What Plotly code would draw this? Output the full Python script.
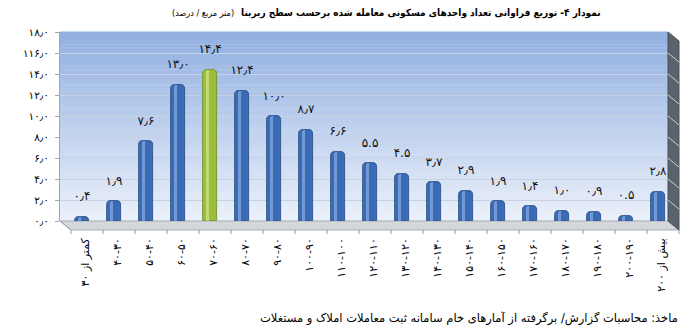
import plotly.graph_objects as go

# ---------------- data ----------------
categories = ["کمتر از ۳۰", "۳۰-۴۰", "۴۰-۵۰", "۵۰-۶۰", "۶۰-۷۰", "۷۰-۸۰", "۸۰-۹۰",
              "۹۰-۱۰۰", "۱۰۰-۱۱۰", "۱۱۰-۱۲۰", "۱۲۰-۱۳۰", "۱۳۰-۱۴۰", "۱۴۰-۱۵۰",
              "۱۵۰-۱۶۰", "۱۶۰-۱۷۰", "۱۷۰-۱۸۰", "۱۸۰-۱۹۰", "۱۹۰-۲۰۰", "بیش از ۲۰۰"]
values = [0.4, 1.9, 7.6, 13.0, 14.4, 12.4, 10.0, 8.7, 6.6, 5.5, 4.5, 3.7, 2.9,
          1.9, 1.4, 1.0, 0.9, 0.5, 2.8]
value_labels = ["۰٫۴", "۱٫۹", "۷٫۶", "۱۳٫۰", "۱۴٫۴", "۱۲٫۴", "۱۰٫۰", "۸٫۷", "۶٫۶",
                "۵.۵", "۴.۵", "۳٫۷", "۲٫۹", "۱٫۹", "۱٫۴", "۱٫۰", "۰٫۹", "۰.۵", "۲٫۸"]
y_tick_values = [0, 2, 4, 6, 8, 10, 12, 14, 16, 18]
y_tick_labels = ["۰٫۰", "۲٫۰", "۴٫۰", "۶٫۰", "۸٫۰", "۱۰٫۰", "۱۲٫۰", "۱۴٫۰", "۱۱۶٫۰", "۱۸٫۰"]
highlight_category = "۶۰-۷۰"

title_text = "نمودار ۴- توزیع فراوانی تعداد واحدهای مسکونی معامله شده برحسب سطح زیربنا"
unit_text = "(متر مربع / درصد)"
source_text = "ماخذ: محاسبات گزارش/ برگرفته از آمارهای خام سامانه ثبت معاملات املاک و مستغلات"

# ---------------- geometry helpers ----------------
W, H = 695, 332
L, R, T, B = 60, 668, 32, 221          # back wall (plot area) in pixels
FONT = "DejaVu Sans"
FONT_C = "DejaVu Sans Condensed, DejaVu Sans"


def px(x):
    return (x - L) / (R - L)


def py(y):
    return (B - y) / (B - T)


n = len(categories)
pos = list(range(n))
ticktext = [("\u061c" + c) if "-" in c else c for c in categories]

base_colors = ["#9bbf3a" if c == highlight_category else "#3a6cb6" for c in categories]
edge_colors = ["#6c8c22" if c == highlight_category else "#22497f" for c in categories]
shine_colors = ["rgba(225,242,170,0.55)" if c == highlight_category else "rgba(160,192,240,0.55)"
                for c in categories]

fig = go.Figure()

fig.add_trace(go.Bar(
    x=pos, y=values, width=0.41, offset=-0.205,
    marker=dict(color=base_colors, line=dict(color=edge_colors, width=0.8), cornerradius=4),
    hoverinfo="skip", showlegend=False,
))
fig.add_trace(go.Bar(
    x=pos, y=values, width=0.1, offset=-0.13,
    marker=dict(color=shine_colors, line=dict(width=0), cornerradius=2),
    hoverinfo="skip", showlegend=False,
))
fig.add_trace(go.Scatter(
    x=pos, y=values, mode="markers+text", text=value_labels,
    textposition="top center",
    textfont=dict(family=FONT, size=12, color="#111111"),
    marker=dict(size=20, opacity=0),
    hoverinfo="skip", showlegend=False, cliponaxis=False,
))

shapes = []
# back wall gradient
top_c = (146, 176, 225)
bot_c = (234, 240, 250)
steps = 60
for i in range(steps):
    t = i / (steps - 1)
    c = tuple(int(round(bot_c[k] + (top_c[k] - bot_c[k]) * t)) for k in range(3))
    shapes.append(dict(type="rect", xref="paper", yref="paper",
                       x0=0, x1=1, y0=i / steps, y1=(i + 1) / steps + 0.002,
                       fillcolor="rgb(%d,%d,%d)" % c, line=dict(width=0), layer="below"))

# floor
dx, dy = 11, 9
floor_path = "M {},{} L {},{} L {},{} L {},{} Z".format(
    px(L), py(B), px(R), py(B), px(R + dx), py(B + dy), px(L + dx), py(B + dy))
shapes.append(dict(type="path", xref="paper", yref="paper", path=floor_path,
                   fillcolor="#d3d6da", line=dict(color="#a8abb0", width=1), layer="below"))
# right side wall
side_path = "M {},{} L {},{} L {},{} L {},{} Z".format(
    px(R), py(T), px(R + dx), py(T + dy), px(R + dx), py(B + dy), px(R), py(B))
shapes.append(dict(type="path", xref="paper", yref="paper", path=side_path,
                   fillcolor="#5a626d", line=dict(color="#4a5058", width=1), layer="above"))
for v in y_tick_values[1:-1]:
    yy = B - v / 18 * (B - T)
    shapes.append(dict(type="line", xref="paper", yref="paper",
                       x0=px(R), y0=py(yy), x1=px(R + dx), y1=py(yy + dy),
                       line=dict(color="#c9ccd1", width=1), layer="above"))
# front floor edge tick marks
cw = (R - L) / n
for k in range(n + 1):
    xx = L + dx + k * cw
    shapes.append(dict(type="line", xref="paper", yref="paper",
                       x0=px(xx), y0=py(B + dy), x1=px(xx), y1=py(B + dy + 4),
                       line=dict(color="#9a9da2", width=1)))
# left slanted floor edge
shapes.append(dict(type="line", xref="paper", yref="paper",
                   x0=px(L), y0=py(B), x1=px(L + dx), y1=py(B + dy),
                   line=dict(color="#9a9da2", width=1)))

annotations = [
    dict(text="<b>" + title_text + "</b>", xref="paper", yref="paper",
         x=px(603), y=py(13), xanchor="right", yanchor="middle", showarrow=False,
         font=dict(family=FONT_C, size=10, color="#000000")),
    dict(text=unit_text, xref="paper", yref="paper",
         x=px(236), y=py(13), xanchor="right", yanchor="middle", showarrow=False,
         font=dict(family=FONT_C, size=9, color="#000000")),
    dict(text=source_text, xref="paper", yref="paper",
         x=px(680), y=py(318), xanchor="right", yanchor="middle", showarrow=False,
         font=dict(family=FONT, size=11.5, color="#000000")),
]

x0 = -0.5 - 6 / cw
fig.update_layout(
    width=W, height=H,
    margin=dict(l=L, r=W - R, t=T, b=H - B, pad=0),
    paper_bgcolor="white", plot_bgcolor="rgba(0,0,0,0)",
    barmode="overlay", bargap=0,
    shapes=shapes, annotations=annotations,
    xaxis=dict(range=[x0, x0 + n], tickmode="array", tickvals=pos, ticktext=ticktext,
               tickangle=-90, ticklabelshift=3, ticklabelstandoff=14,
               showgrid=False, zeroline=False, showline=False, ticks="",
               tickfont=dict(family=FONT, size=11, color="#000000"), fixedrange=True),
    yaxis=dict(range=[0, 18], tickmode="array", tickvals=y_tick_values, ticktext=y_tick_labels,
               showgrid=True, gridcolor="#c8d2e2", gridwidth=1, zeroline=False,
               showline=True, linecolor="#a3a6ab", linewidth=1,
               ticks="outside", ticklen=4, tickcolor="#a3a6ab", ticklabelstandoff=4,
               tickfont=dict(family=FONT, size=10.5, color="#000000"), fixedrange=True),
    font=dict(family=FONT),
)

fig.write_html("out.html")
